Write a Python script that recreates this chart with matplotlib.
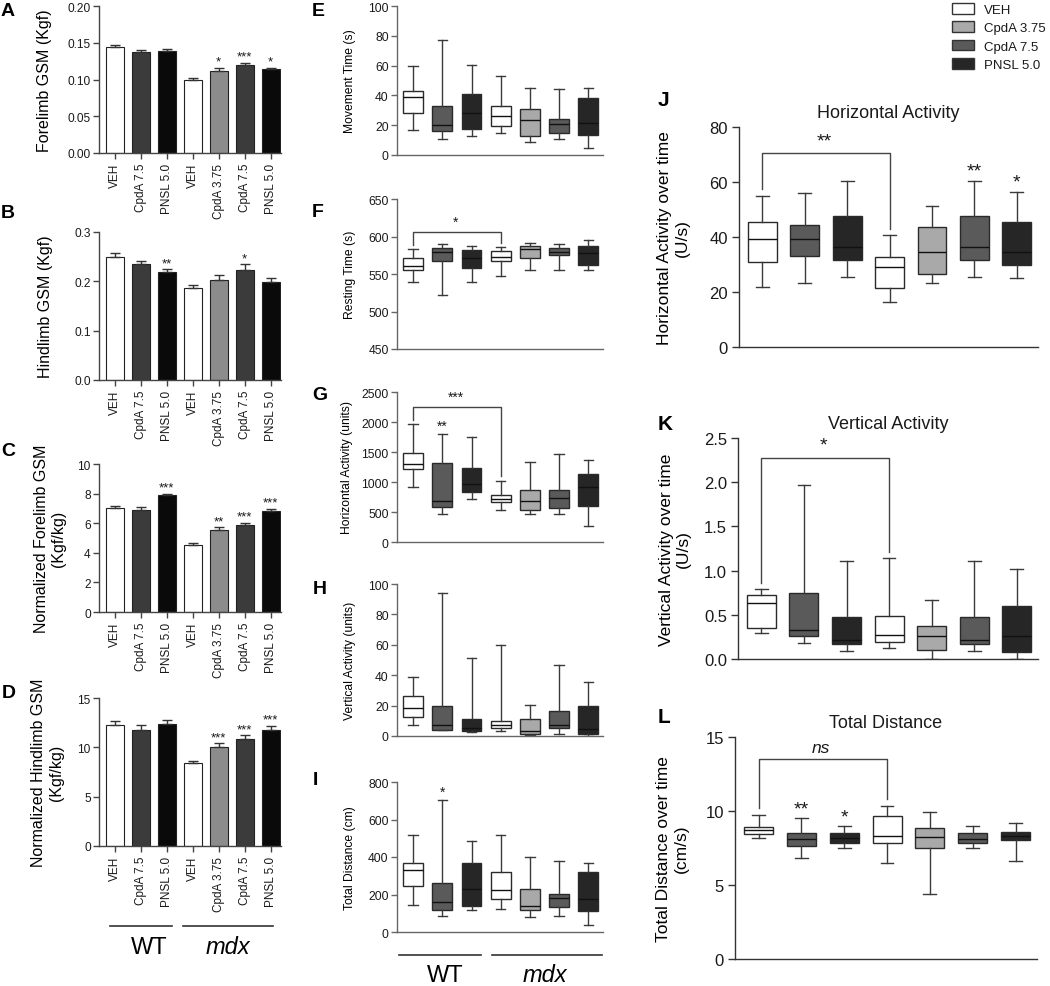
import matplotlib
matplotlib.use("Agg")
import matplotlib.pyplot as plt
from matplotlib.patches import Patch
from matplotlib.lines import Line2D
from matplotlib.ticker import FormatStrFormatter
import numpy as np

plt.rcParams["font.family"] = ["Liberation Sans", "DejaVu Sans"]
plt.rcParams["text.color"] = "#1a1a1a"

W, H = 1050, 987

# ---------------- data ----------------
# bar panels: WT VEH, WT CpdA 7.5, WT PNSL 5.0, mdx VEH, mdx CpdA 3.75, mdx CpdA 7.5, mdx PNSL 5.0
bar_labels = ["VEH", "CpdA 7.5", "PNSL 5.0", "VEH", "CpdA 3.75", "CpdA 7.5", "PNSL 5.0"]
bar_colors = ["white", "#3b3b3b", "#0a0a0a", "white", "#8c8c8c", "#3b3b3b", "#0a0a0a"]

fore_mean = [0.144, 0.137, 0.139, 0.099, 0.112, 0.120, 0.114]
fore_sem = [0.003, 0.003, 0.003, 0.003, 0.004, 0.003, 0.002]
fore_star = ["", "", "", "", "*", "***", "*"]

hind_mean = [0.250, 0.235, 0.218, 0.187, 0.203, 0.222, 0.199]
hind_sem = [0.008, 0.007, 0.007, 0.006, 0.009, 0.013, 0.007]
hind_star = ["", "", "**", "", "", "*", ""]

nfore_mean = [7.05, 6.90, 7.92, 4.55, 5.55, 5.90, 6.80]
nfore_sem = [0.13, 0.17, 0.08, 0.12, 0.17, 0.13, 0.17]
nfore_star = ["", "", "***", "", "**", "***", "***"]

nhind_mean = [12.3, 11.8, 12.4, 8.45, 10.05, 10.85, 11.8]
nhind_sem = [0.40, 0.45, 0.35, 0.15, 0.35, 0.40, 0.40]
nhind_star = ["", "", "", "", "***", "***", "***"]

# box panels (whislo, q1, median, q3, whishi), same group order as bars
box_colors = ["white", "#5a5a5a", "#262626", "white", "#a9a9a9", "#5a5a5a", "#262626"]

movement_time = [(17, 28, 39, 43, 60), (10.5, 16, 20, 33, 77.5), (13, 17.5, 28.5, 41, 60.5),
                 (14.5, 19.5, 26.5, 33, 53), (9, 13, 23.5, 31, 45), (10.5, 15, 21, 24, 44.5),
                 (4.5, 13.5, 21.5, 38, 45)]
resting_time = [(540, 556, 561, 572, 583), (522, 567, 580, 585, 590), (539, 558, 571, 582, 587),
                (548, 567, 573, 581, 586), (555, 572, 583, 587, 591), (556, 576, 580, 585, 590),
                (556, 562, 578, 587, 595)]
horiz_units = [(920, 1215, 1300, 1480, 1960), (460, 585, 690, 1315, 1800), (710, 830, 970, 1230, 1750),
               (540, 660, 715, 790, 1020), (460, 540, 680, 870, 1340), (460, 565, 740, 860, 1460),
               (270, 595, 910, 1135, 1370)]
vert_units = [(7, 12.3, 18.5, 26.5, 38.5), (3.7, 4, 7.3, 19.5, 94), (2.6, 3, 5.3, 11, 51.5),
              (3.5, 5, 7.5, 10, 60), (0.4, 1.1, 3.5, 11.5, 20.5), (1.1, 5.5, 7.5, 16.5, 47),
              (0.3, 1, 4.5, 19.5, 35.5)]
total_dist_cm = [(145, 245, 330, 370, 520), (88, 120, 160, 262, 705), (115, 138, 230, 366, 484),
                 (124, 177, 222, 321, 520), (80, 120, 138, 230, 400), (83, 136, 180, 202, 380),
                 (35, 113, 175, 320, 366)]
horiz_rate = [(22, 31, 39.2, 45.6, 55), (23.2, 33.1, 39.2, 44.5, 56), (25.5, 31.5, 36.5, 47.5, 60.5),
              (16.5, 21.3, 29.1, 32.8, 40.6), (23.2, 26.4, 34.4, 43.5, 51.2), (25.5, 31.6, 36.5, 47.5, 60.5),
              (25.1, 29.7, 34.5, 45.5, 56.4)]
vert_rate = [(0.29, 0.35, 0.63, 0.72, 0.79), (0.18, 0.26, 0.33, 0.75, 1.97), (0.094, 0.17, 0.21, 0.47, 1.11),
             (0.13, 0.196, 0.275, 0.49, 1.14), (0.0, 0.105, 0.263, 0.375, 0.67), (0.094, 0.17, 0.21, 0.47, 1.11),
             (0.0, 0.075, 0.263, 0.595, 1.02)]
dist_rate = [(8.15, 8.44, 8.69, 8.94, 9.72), (6.84, 7.63, 8.08, 8.49, 9.5), (7.49, 7.83, 8.16, 8.5, 8.96),
             (6.5, 7.81, 8.32, 9.66, 10.34), (4.42, 7.52, 8.21, 8.86, 9.95), (7.49, 7.83, 8.12, 8.49, 8.96),
             (6.64, 8.01, 8.3, 8.6, 9.16)]

legend_labels = ["VEH", "CpdA 3.75", "CpdA 7.5", "PNSL 5.0"]
legend_colors = ["white", "#a9a9a9", "#5a5a5a", "#262626"]


def rect(x0, y0, x1, y1):
    return [x0 / W, 1 - y1 / H, (x1 - x0) / W, (y1 - y0) / H]


fig = plt.figure(figsize=(W / 100, H / 100), dpi=100)


def style_axes(ax, spine_col, tick_size, tick_len):
    for s in ("top", "right"):
        ax.spines[s].set_visible(False)
    for s in ("left", "bottom"):
        ax.spines[s].set_color(spine_col)
        ax.spines[s].set_linewidth(1.0)
    ax.tick_params(axis="y", colors=spine_col, labelcolor="#1a1a1a", labelsize=tick_size,
                   length=tick_len, width=1.0, pad=2)


def bar_panel(box, means, sems, stars, ylim, yticks, fmt, ylabel, lpad):
    ax = fig.add_axes(rect(*box))
    x = np.arange(len(means))
    ax.bar(x, means, width=0.7, color=bar_colors, edgecolor="#222222", linewidth=0.8,
           yerr=[np.zeros(len(sems)), sems],
           error_kw=dict(ecolor="#333333", elinewidth=1.0, capsize=3.5, capthick=1.0))
    for xi, m, s, st in zip(x, means, sems, stars):
        if st:
            ax.annotate(st, (xi, m + s), xytext=(0, 0), textcoords="offset points",
                        ha="center", va="bottom", fontsize=9.5)
    ax.set_xlim(-0.6, 6.4)
    ax.set_ylim(*ylim)
    ax.set_yticks(yticks)
    ax.yaxis.set_major_formatter(FormatStrFormatter(fmt))
    ax.set_xticks(x)
    ax.set_xticklabels(bar_labels, rotation=90, fontsize=8.5)
    style_axes(ax, "#444444", 8.6, 4)
    ax.tick_params(axis="x", colors="#444444", labelcolor="#1a1a1a", length=4, width=1.0, pad=3)
    ax.set_ylabel(ylabel, fontsize=11.5, labelpad=lpad)
    return ax


def box_panel(box, stats_rows, ylim, yticks, fmt, ylabel, lpad, tick_size, lab_size,
              spine_col, cap=0.3, title=None):
    ax = fig.add_axes(rect(*box))
    stats = [dict(whislo=r[0], q1=r[1], med=r[2], q3=r[3], whishi=r[4], fliers=[])
             for r in stats_rows]
    bp = ax.bxp(stats, positions=range(len(stats)), widths=0.68, patch_artist=True,
                showfliers=False, manage_ticks=False, capwidths=cap,
                boxprops=dict(edgecolor="#2a2a2a", linewidth=1.0),
                whiskerprops=dict(color="#3a3a3a", linewidth=1.0),
                capprops=dict(color="#3a3a3a", linewidth=1.0),
                medianprops=dict(color="#111111", linewidth=1.0))
    for patch, c in zip(bp["boxes"], box_colors):
        patch.set_facecolor(c)
    ax.set_xlim(-0.55, 6.5)
    ax.set_ylim(*ylim)
    ax.set_yticks(yticks)
    ax.yaxis.set_major_formatter(FormatStrFormatter(fmt))
    ax.set_xticks([])
    style_axes(ax, spine_col, tick_size, 4)
    ax.set_ylabel(ylabel, fontsize=lab_size, labelpad=lpad)
    if title:
        ax.set_title(title, fontsize=13, pad=7)
    return ax


def bracket(ax, rows, i, j, y, label, size, italic=False):
    span = ax.get_ylim()[1] - ax.get_ylim()[0]
    gap = 0.03 * span
    ax.plot([i, i, j, j], [rows[i][4] + gap, y, y, rows[j][4] + gap],
            color="#444444", lw=1.0, clip_on=False)
    ax.text((i + j) / 2 - 0.05, y + 0.02 * span, label, ha="center", va="bottom",
            fontsize=size, style="italic" if italic else "normal")


def star_over(ax, rows, i, label, size):
    span = ax.get_ylim()[1] - ax.get_ylim()[0]
    ax.text(i, rows[i][4] + 0.005 * span, label, ha="center", va="bottom", fontsize=size)


# ---------------- left column: bars ----------------
bar_panel((99, 7, 281, 154), fore_mean, fore_sem, fore_star, (0, 0.2),
          [0, 0.05, 0.10, 0.15, 0.20], "%.2f", "Forelimb GSM (Kgf)", 11)
bar_panel((99, 233, 281, 381), hind_mean, hind_sem, hind_star, (0, 0.3),
          [0, 0.1, 0.2, 0.3], "%.1f", "Hindlimb GSM (Kgf)", 15)
bar_panel((99, 465, 281, 613), nfore_mean, nfore_sem, nfore_star, (0, 10),
          [0, 2, 4, 6, 8, 10], "%d", "Normalized Forelimb GSM\n(Kgf/kg)", 8)
bar_panel((99, 699, 281, 847), nhind_mean, nhind_sem, nhind_star, (0, 15),
          [0, 5, 10, 15], "%d", "Normalized Hindlimb GSM\n(Kgf/kg)", 10)

# ---------------- middle column: boxes ----------------
mid = dict(tick_size=8.7, lab_size=8.7, spine_col="#666666", cap=0.32)
box_panel((397, 7, 603, 156), movement_time, (0, 100), range(0, 101, 20), "%d",
          "Movement Time (s)", 9, **mid)
axF = box_panel((397, 200, 603, 350), resting_time, (450, 650), range(450, 651, 50), "%d",
                "Resting Time (s)", 9, **mid)
axG = box_panel((397, 393, 603, 543), horiz_units, (0, 2500), range(0, 2501, 500), "%d",
                "Horizontal Activity (units)", 6, **mid)
box_panel((397, 585, 603, 737), vert_units, (0, 100), range(0, 101, 20), "%d",
          "Vertical Activity (units)", 9, **mid)
axI = box_panel((397, 783, 603, 933), total_dist_cm, (0, 800), range(0, 801, 200), "%d",
                "Total Distance (cm)", 9, **mid)
bracket(axF, resting_time, 0, 3, 606.5, "*", 10)
bracket(axG, horiz_units, 0, 3, 2257, "***", 10)
star_over(axG, horiz_units, 1, "**", 10)
star_over(axI, total_dist_cm, 1, "*", 10)

# ---------------- right column ----------------
right = dict(tick_size=12, lab_size=12.5, spine_col="#333333", cap=0.3)
axJ = box_panel((739, 128, 1038, 348), horiz_rate, (0, 80), range(0, 81, 20), "%d",
                "Horizontal Activity over time\n(U/s)", 14, title="Horizontal Activity", **right)
axK = box_panel((738, 439, 1038, 660), vert_rate, (0, 2.5), np.arange(0, 2.51, 0.5), "%.1f",
                "Vertical Activity over time\n(U/s)", 9, title="Vertical Activity", **right)
axL = box_panel((735, 738, 1037, 960), dist_rate, (0, 15), [0, 5, 10, 15], "%d",
                "Total Distance over time\n(cm/s)", 12, title="Total Distance", **right)
for ax in (axJ, axK, axL):
    ax.tick_params(axis="y", length=5, pad=3)
bracket(axJ, horiz_rate, 0, 3, 70.4, "**", 14)
star_over(axJ, horiz_rate, 5, "**", 14)
star_over(axJ, horiz_rate, 6, "*", 14)
bracket(axK, vert_rate, 0, 3, 2.27, "*", 14)
bracket(axL, dist_rate, 0, 3, 13.5, "ns", 12.5, italic=True)
star_over(axL, dist_rate, 1, "**", 14)
star_over(axL, dist_rate, 2, "*", 14)

# legend
handles = [Patch(facecolor=c, edgecolor="#333333", linewidth=1.0) for c in legend_colors]
fig.legend(handles, legend_labels, loc="upper left", bbox_to_anchor=(952 / W, 1 - 4 / H),
           frameon=False, fontsize=9.5, handlelength=1.7, handleheight=0.85,
           labelspacing=0.42, handletextpad=0.7, borderaxespad=0, borderpad=0)

# panel letters
letters = [("A", 8, 12, 14), ("B", 8, 214, 14), ("C", 8, 451, 14), ("D", 9, 693, 14),
           ("E", 318, 12, 14), ("F", 318, 213, 14), ("G", 320, 395, 14), ("H", 320, 590, 14),
           ("I", 315, 781, 14), ("J", 663, 101, 15), ("K", 665, 425, 15), ("L", 664, 718, 15)]
for t, x, y, s in letters:
    fig.text(x / W, 1 - y / H, t, fontsize=s, fontweight="bold", ha="center", va="center",
             color="black")

# genotype group lines
for (x0, x1), yl, lab, xt, yt, it in [((110, 172), 927, "WT", 149, 948, False),
                                      ((183, 273), 927, "mdx", 228, 948, True),
                                      ((399, 481), 956, "WT", 445, 976, False),
                                      ((492, 602), 956, "mdx", 545, 976, True)]:
    fig.add_artist(Line2D([x0 / W, x1 / W], [1 - yl / H, 1 - yl / H], color="#333333", lw=1.2))
    fig.text(xt / W, 1 - yt / H, lab, fontsize=17, ha="center", va="center",
             style="italic" if it else "normal", color="black")

fig.savefig("out.png", dpi=100)
